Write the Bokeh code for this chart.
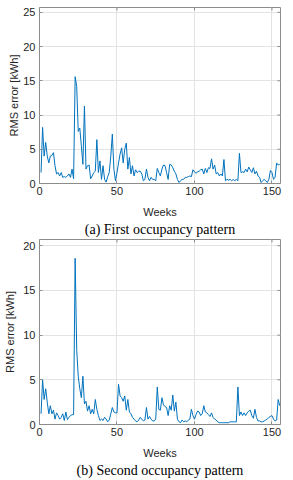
import math
from bokeh.plotting import figure
from bokeh.layouts import column
from bokeh.models import Range1d, FixedTicker, LinearAxis
from bokeh.embed import file_html
from bokeh.resources import INLINE

weeks = list(range(1, 156))

rms_first = [
    1.6, 8.2, 4.0, 6.0, 4.0, 3.0, 4.0, 4.1, 4.5, 2.6,
    1.4, 1.6, 1.1, 1.6, 0.9, 1.0, 0.9, 1.1, 1.4, 0.9,
    2.1, 0.7, 15.6, 14.2, 7.6, 8.1, 5.5, 2.8, 11.3, 2.1,
    2.6, 2.7, 0.7, 1.1, 1.6, 1.8, 6.4, 1.6, 3.3, 0.6,
    2.6, 0.6, 0.2, 1.0, 1.6, 4.0, 7.2, 2.1, 0.4, 1.6,
    3.0, 4.3, 5.2, 3.0, 5.0, 5.9, 2.1, 3.8, 1.4, 2.6,
    1.1, 2.0, 1.6, 1.8, 1.8, 1.4, 0.4, 0.6, 2.1, 0.9,
    0.4, 0.9, 0.6, 0.6, 0.4, 2.2, 1.6, 1.1, 2.1, 2.7,
    2.6, 1.6, 0.6, 2.8, 2.7, 2.3, 1.8, 1.4, 0.6, 0.15,
    0.4, 0.6, 0.6, 0.9, 0.9, 1.0, 1.1, 1.0, 2.0, 1.7,
    1.5, 1.7, 1.8, 2.0, 2.1, 1.4, 2.2, 1.6, 2.3, 2.2,
    3.6, 2.1, 2.7, 1.4, 1.6, 1.1, 1.4, 1.1, 3.5, 0.4,
    0.6, 0.5, 0.6, 0.4, 0.6, 0.4, 0.6, 0.4, 4.4, 1.6,
    1.7, 1.6, 2.1, 1.7, 2.4, 2.0, 1.6, 2.3, 1.4, 1.8,
    1.1, 0.9, 0.15, 0.4, 0.6, 0.4, 0.15, 0.6, 1.9, 1.6,
    0.6, 0.9, 3.0, 2.7, 2.8,
]

rms_second = [
    1.2, 5.0, 2.8, 4.0, 2.5, 1.2, 2.1, 1.2, 1.6, 0.6,
    1.3, 1.0, 0.6, 0.8, 1.2, 0.45, 1.4, 0.55, 0.8, 1.0,
    1.1, 1.1, 18.6, 8.4, 5.4, 4.0, 3.0, 5.4, 2.3, 2.6,
    1.5, 2.1, 1.2, 1.7, 1.2, 2.8, 1.7, 1.0, 0.45, 0.6,
    0.45, 0.8, 0.6, 0.3, 0.5, 1.2, 1.9, 1.4, 1.3, 1.3,
    4.5, 3.2, 3.0, 2.6, 3.2, 1.6, 2.8, 1.4, 1.2, 0.8,
    0.6, 0.4, 0.3, 0.5, 0.8, 0.6, 0.4, 0.5, 1.9, 0.6,
    0.9, 0.6, 0.4, 0.4, 0.6, 4.2, 1.7, 1.6, 3.0, 2.2,
    2.0, 1.9, 1.0, 2.1, 1.6, 3.3, 1.5, 2.5, 0.6, 0.3,
    0.2, 0.5, 0.3, 0.4, 0.3, 0.5, 0.6, 1.7, 1.0, 0.6,
    1.1, 1.5, 1.4, 1.0, 1.2, 2.1, 1.4, 1.3, 1.1, 0.9,
    1.3, 0.8, 0.6, 0.5, 0.3, 0.2, 0.2, 0.2, 0.2, 0.2,
    0.2, 0.2, 0.3, 0.3, 0.3, 0.3, 0.3, 4.2, 1.0, 1.4,
    1.0, 1.3, 1.0, 1.3, 1.5, 1.6, 1.0, 0.7, 1.7, 0.8,
    0.4, 0.4, 0.3, 0.3, 0.4, 0.5, 0.6, 0.8, 0.9, 1.0,
    0.6, 0.4, 0.5, 2.8, 2.1,
]

x_ticks = [0, 50, 100, 150]
y_ticks_first = [0, 5, 10, 15, 20, 25]
y_ticks_second = [0, 5, 10, 15, 20]

x_label = "Weeks"
y_label = "RMS error [kWh]"
caption_first = "(a) First occupancy pattern"
caption_second = "(b) Second occupancy pattern"

LINE = "#0072BD"
TXT = "#262626"
FRAME = "#8c8c8c"
GRID = "#e3e3e3"
XMAX = 155.5


def style_axis(ax):
    ax.axis_line_color = None
    ax.major_tick_in = 3
    ax.major_tick_out = 0
    ax.minor_tick_line_color = None
    ax.major_tick_line_color = FRAME
    ax.major_label_text_font = "Liberation Sans"
    ax.major_label_text_font_size = "11px"
    ax.major_label_text_color = TXT
    ax.axis_label_text_font = "Liberation Sans"
    ax.axis_label_text_font_size = "11px"
    ax.axis_label_text_font_style = "normal"
    ax.axis_label_text_color = TXT


def make(y, yticks, ymax, height, mtop, mbottom, mleft, mright, caption,
         ylab_stand, xlab_stand):
    p = figure(
        width=288, height=height,
        x_range=Range1d(0, XMAX), y_range=Range1d(0, ymax),
        output_backend="svg", toolbar_location=None,
        min_border_top=mtop, min_border_right=mright,
        min_border_left=mleft, min_border_bottom=mbottom,
    )
    p.line(weeks, y, line_color=LINE, line_width=1)
    p.xaxis.ticker = FixedTicker(ticks=x_ticks)
    p.yaxis.ticker = FixedTicker(ticks=yticks)
    p.xaxis.axis_label = x_label
    p.yaxis.axis_label = y_label
    style_axis(p.xaxis[0])
    style_axis(p.yaxis[0])
    p.xaxis.major_label_standoff = 3
    p.xaxis.axis_label_standoff = xlab_stand
    p.yaxis.major_label_standoff = 4
    p.yaxis.axis_label_standoff = ylab_stand
    cap = LinearAxis(ticker=FixedTicker(ticks=[]), axis_label=caption,
                     major_label_standoff=0, axis_label_standoff=1)
    cap.axis_line_color = None
    cap.major_tick_line_color = None
    cap.minor_tick_line_color = None
    cap.axis_label_text_font = "Liberation Serif"
    cap.axis_label_text_font_size = "14px"
    cap.axis_label_text_font_style = "normal"
    cap.axis_label_text_color = "black"
    p.add_layout(cap, "below")
    p.scatter(x_ticks, [ymax] * len(x_ticks), marker="dash", angle=math.pi / 2,
              size=6, line_color=FRAME, line_width=1)
    p.scatter([XMAX] * len(yticks), yticks, marker="dash",
              size=6, line_color=FRAME, line_width=1)
    p.xgrid.grid_line_color = GRID
    p.ygrid.grid_line_color = GRID
    p.outline_line_color = FRAME
    p.outline_line_width = 1
    p.outline_line_alpha = 1
    p.background_fill_color = "white"
    p.border_fill_color = "white"
    return p


p1 = make(rms_first, y_ticks_first, 25.7, 239, 7, 55, 39, 8, caption_first, 0, 8)
p2 = make(rms_second, y_ticks_second, 20.7, 241, 0, 55, 35, 2, caption_second, 4, 8)

layout = column(p1, p2, spacing=0)

open("out.html", "w").write(file_html(layout, INLINE))
